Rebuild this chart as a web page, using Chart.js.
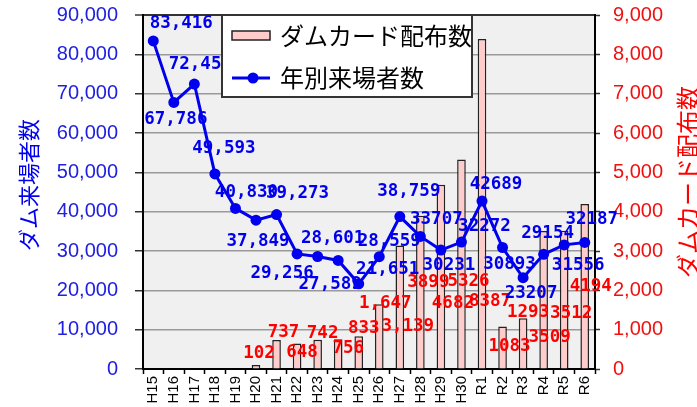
<!DOCTYPE html>
<html>
<head>
<meta charset="utf-8">
<script src="https://cdn.jsdelivr.net/npm/chart.js@4.4.1/dist/chart.umd.min.js"></script>
<style>
  html, body { margin: 0; padding: 0; background: #fff; }
  #wrap { width: 697px; height: 407px; }
</style>
</head>
<body>
<div id="wrap"><canvas id="myChart" width="697" height="407"></canvas></div>
<script>
  // categories and values
  var years = ['H15','H16','H17','H18','H19','H20','H21','H22','H23','H24','H25','H26','H27','H28','H29','H30','R1','R2','R3','R4','R5','R6'];
  var visitors = [83416, 67786, 72450, 49593, 40830, 37849, 39273, 29256, 28601, 27589, 21651, 28559, 38759, 33707, 30231, 32272, 42689, 30893, 23207, 29154, 31556, 32187];
  var cards = [null, null, null, null, null, 102, 737, 648, 742, 756, 833, 1647, 3139, 3899, 4682, 5326, 8387, 1083, 1293, 3509, 3512, 4194];
  var leftTicks = [0, 10000, 20000, 30000, 40000, 50000, 60000, 70000, 80000, 90000];
  var rightTicks = [0, 1000, 2000, 3000, 4000, 5000, 6000, 7000, 8000, 9000];
  var firstPlainLabel = 13; // from H28 the labels have no comma

  // label nudges (px, relative to the point / bar top)
  var visitorShift = [[28,-17],[2,17],[6,-20],[9,-25],[11,-16],[2,21],[21,-21],[-15,20],[15,-18],[-8,24],[29,-14],[10,-15],[9,-25],[16,-17],[8,15],[23,-16],[14,-17],[7,17],[8,16],[4,-21],[14,21],[7,-23]];
  var cardShift = [null,null,null,null,null,[3,-12],[7,-8],[5,9],[5,-6],[10,9],[5,-8],[6,-1],[8,81],[8,67],[12,119],[7,122],[8,262],[7,20],[5,-6],[6,106],[7,83],[6,82]];

  var BLUE = '#0000ee';
  var RED = '#ff0000';

  function fmt(v, i) {
    return i < firstPlainLabel ? v.toLocaleString('en-US') : String(v);
  }

  function noPad(s) { s.paddingTop = 0; s.paddingBottom = 0; }

  var extras = {
    id: 'extras',
    beforeDraw: function (chart) {
      var a = chart.chartArea, ctx = chart.ctx;
      ctx.save();
      ctx.fillStyle = '#f0f0f0';
      ctx.fillRect(a.left, a.top, a.right - a.left, a.bottom - a.top);
      ctx.restore();
    },
    afterDatasetsDraw: function (chart) {
      var ctx = chart.ctx;
      ctx.save();
      ctx.font = 'bold 17.5px "DejaVu Sans Mono"';
      ctx.textAlign = 'center';
      ctx.textBaseline = 'middle';
      var bars = chart.getDatasetMeta(0).data;
      ctx.fillStyle = RED;
      cards.forEach(function (v, i) {
        if (v == null) return;
        var e = bars[i], s = cardShift[i];
        ctx.fillText(fmt(v, i), e.x + s[0], e.y + s[1]);
      });
      var pts = chart.getDatasetMeta(1).data;
      ctx.fillStyle = BLUE;
      visitors.forEach(function (v, i) {
        var e = pts[i], s = visitorShift[i];
        ctx.fillText(fmt(v, i), e.x + s[0], e.y + s[1]);
      });
      ctx.restore();
    },
    afterDraw: function (chart) {
      var ctx = chart.ctx, a = chart.chartArea;
      ctx.save();
      // legend box
      var lx = a.left + 79, ly = a.top, lw = 250, lh = 82;
      ctx.fillStyle = '#fff';
      ctx.fillRect(lx, ly, lw, lh);
      ctx.strokeStyle = '#333';
      ctx.lineWidth = 2;
      ctx.strokeRect(lx, ly, lw, lh);
      ctx.fillStyle = '#ffcccc';
      ctx.fillRect(lx + 10, ly + 16, 38, 9);
      ctx.lineWidth = 1.5;
      ctx.strokeStyle = '#222';
      ctx.strokeRect(lx + 10, ly + 16, 38, 9);
      ctx.strokeStyle = BLUE;
      ctx.lineWidth = 3;
      ctx.beginPath();
      ctx.moveTo(lx + 10, ly + 63);
      ctx.lineTo(lx + 48, ly + 63);
      ctx.stroke();
      ctx.fillStyle = BLUE;
      ctx.beginPath();
      ctx.arc(lx + 31, ly + 63, 5.5, 0, Math.PI * 2);
      ctx.fill();
      ctx.fillStyle = '#000';
      ctx.font = '24px "Noto Sans CJK JP"';
      ctx.textAlign = 'left';
      ctx.textBaseline = 'middle';
      ctx.fillText(chart.data.datasets[0].label, lx + 58, ly + 21);
      ctx.fillText(chart.data.datasets[1].label, lx + 58, ly + 63);
      // axis titles, both read bottom to top
      var mid = (a.top + a.bottom) / 2;
      ctx.textAlign = 'center';
      ctx.font = '22px "Noto Sans CJK JP"';
      ctx.fillStyle = BLUE;
      ctx.translate(29, mid - 7);
      ctx.rotate(-Math.PI / 2);
      ctx.fillText('ダム来場者数', 0, 0);
      ctx.restore();
      ctx.save();
      ctx.font = '24px "Noto Sans CJK JP"';
      ctx.fillStyle = RED;
      ctx.textAlign = 'center';
      ctx.textBaseline = 'middle';
      ctx.translate(chart.width - 9, mid - 10);
      ctx.rotate(-Math.PI / 2);
      ctx.fillText('ダムカード配布数', 0, 0);
      ctx.restore();
    }
  };

  var ctx = document.getElementById('myChart').getContext('2d');
  var chart = new Chart(ctx, {
    data: {
      labels: years,
      datasets: [{
        type: 'bar',
        label: 'ダムカード配布数',
        data: cards,
        yAxisID: 'y1',
        backgroundColor: '#ffcccc',
        borderColor: '#222',
        borderWidth: 1.5,
        categoryPercentage: 1,
        barPercentage: 0.42,
        order: 2
      }, {
        type: 'line',
        label: '年別来場者数',
        data: visitors,
        yAxisID: 'y',
        borderColor: BLUE,
        backgroundColor: BLUE,
        borderWidth: 3,
        pointRadius: 5.5,
        pointBorderWidth: 0,
        tension: 0,
        order: 1
      }]
    },
    options: {
      responsive: false,
      animation: false,
      events: [],
      layout: { padding: { top: 15, left: 0, right: 0, bottom: 0 } },
      plugins: { legend: { display: false }, tooltip: { enabled: false } },
      scales: {
        x: {
          offset: true,
          grid: { offset: true, drawOnChartArea: false, tickLength: 5, tickColor: '#000', tickWidth: 1.5 },
          border: { color: '#000', width: 2 },
          ticks: { autoSkip: false, minRotation: 90, maxRotation: 90, padding: 2, color: '#000', font: { family: 'Liberation Sans', size: 15 } },
          afterFit: function (s) { s.height = 38; s.paddingLeft = 0; s.paddingRight = 0; }
        },
        y: {
          position: 'left',
          min: 0, max: 90000,
          afterBuildTicks: function (s) { s.ticks = leftTicks.map(function (v) { return { value: v }; }); },
          grid: {
            color: function (c) { return c.tick && c.tick.value === 90000 ? '#333' : '#9a9a9a'; },
            lineWidth: function (c) { return c.tick && c.tick.value === 90000 ? 2 : 1.5; },
            tickLength: 8, tickColor: '#333', tickWidth: 1.5
          },
          border: { color: '#000', width: 2 },
          ticks: { padding: 17, color: '#2020e0', font: { family: 'Liberation Sans', size: 20 },
            callback: function (v) { return v.toLocaleString('en-US'); } },
          afterFit: function (s) { s.width = 143; noPad(s); }
        },
        y1: {
          position: 'right',
          min: 0, max: 9000,
          afterBuildTicks: function (s) { s.ticks = rightTicks.map(function (v) { return { value: v }; }); },
          grid: { drawOnChartArea: false, tickLength: 5, tickColor: '#333', tickWidth: 1.5 },
          border: { color: '#000', width: 2 },
          ticks: { padding: 13, color: '#f01010', font: { family: 'Liberation Sans', size: 20 },
            callback: function (v) { return v.toLocaleString('en-US'); } },
          afterFit: function (s) { s.width = 102; noPad(s); }
        }
      }
    },
    plugins: [extras]
  });
</script>
</body>
</html>
